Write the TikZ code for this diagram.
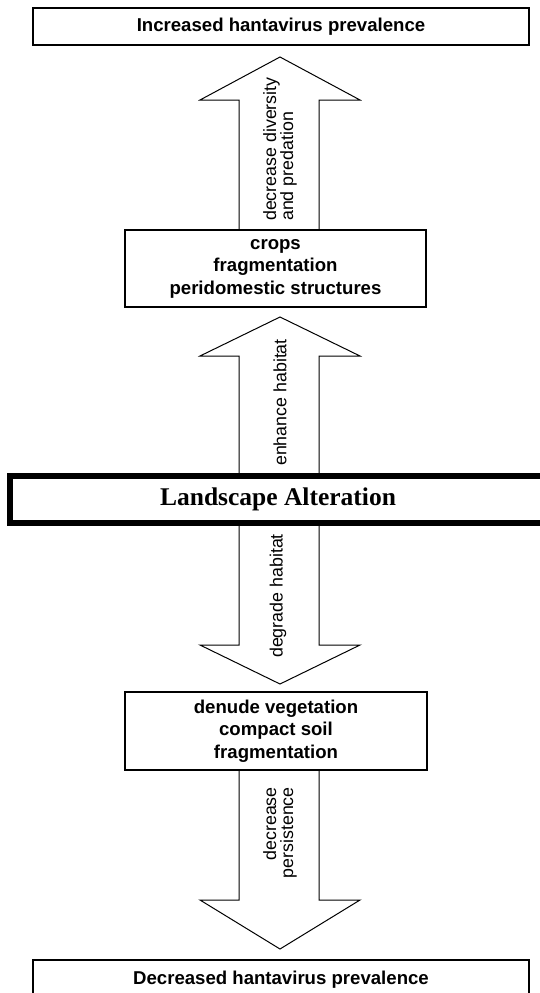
\documentclass[tikz,border=0pt]{standalone}
\usepackage{fontspec}
\setmainfont{Liberation Sans}
\newfontfamily\timesbold{Liberation Serif}
\usepackage{tikz}

\begin{document}
\begin{tikzpicture}[x=1pt,y=-1pt,
  box/.style={draw,line width=2pt,align=center,inner sep=0pt,font=\fontsize{18.6}{22.5}\selectfont\bfseries},
  main box/.style={draw,line width=6pt,inner sep=0pt,font=\timesbold\fontsize{25.5}{30}\selectfont\bfseries},
  block arrow/.style={line width=1pt,line join=miter},
  arrow text/.style={rotate=90,inner sep=0pt,font=\fontsize{17.8}{17}\selectfont}]

  \useasboundingbox (0,0) rectangle (539,993);

  \node[box,minimum width=496pt,minimum height=37pt] (incr) at (281,26.5) {Increased hantavirus prevalence};
  \node[box,minimum width=301pt,minimum height=77pt] (crops) at (275.5,268.5) {crops\\fragmentation\\peridomestic structures};
  \node[main box,minimum width=536pt,minimum height=47pt] (land) at (278,499.5) {Landscape Alteration};
  \node[box,minimum width=302pt,minimum height=78pt] (denude) at (276,731) {denude vegetation\\compact soil\\fragmentation};
  \node[box,minimum width=496pt,minimum height=40pt] (decr) at (281,980) {Decreased hantavirus prevalence};

  \coordinate (shaftL) at (239,0);
  \coordinate (shaftR) at (319,0);
  \coordinate (headL) at (200,0);
  \coordinate (headR) at (360,0);

  \coordinate (tipA) at (280,57);  \coordinate (neckA) at (280,100);
  \coordinate (tipB) at (280,317); \coordinate (neckB) at (280,356);
  \coordinate (tipC) at (280,684); \coordinate (neckC) at (280,645);
  \coordinate (tipD) at (280,949); \coordinate (neckD) at (280,900);

  \draw[block arrow] (shaftL |- crops.north) -- (shaftL |- neckA) -- (headL |- neckA) -- (tipA)
    -- (headR |- neckA) -- (shaftR |- neckA) -- (shaftR |- crops.north);
  \draw[block arrow] (shaftL |- land.north) -- (shaftL |- neckB) -- (headL |- neckB) -- (tipB)
    -- (headR |- neckB) -- (shaftR |- neckB) -- (shaftR |- land.north);
  \draw[block arrow] (shaftL |- land.south) -- (shaftL |- neckC) -- (headL |- neckC) -- (tipC)
    -- (headR |- neckC) -- (shaftR |- neckC) -- (shaftR |- land.south);
  \draw[block arrow] (shaftL |- denude.south) -- (shaftL |- neckD) -- (headL |- neckD) -- (tipD)
    -- (headR |- neckD) -- (shaftR |- neckD) -- (shaftR |- denude.south);

  \node[arrow text,anchor=west,align=left] (lblA) at (280,221) {decrease diversity\\and predation};
  \node[arrow text,anchor=west] (lblB) at (280,466) {enhance habitat};
  \node[arrow text,anchor=west] (lblC) at (278,658) {degrade habitat};
  \node[arrow text,anchor=east,align=right] (lblD) at (280,787) {decrease\\persistence};
\end{tikzpicture}
\end{document}
